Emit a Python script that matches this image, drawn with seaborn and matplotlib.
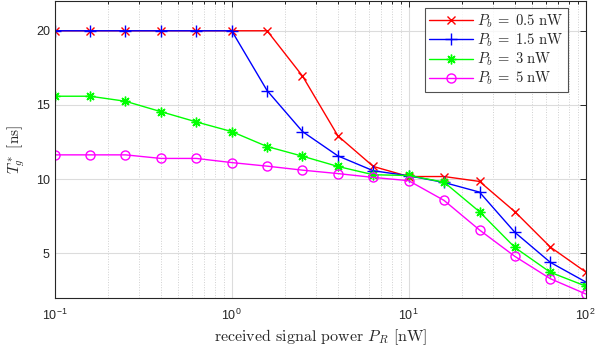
import numpy as np
import pandas as pd
import matplotlib
matplotlib.use("Agg")
import matplotlib.pyplot as plt
import seaborn as sns
from matplotlib.ticker import LogLocator, NullFormatter

# ---- data ----
P_R = [0.1, 0.1585, 0.2512, 0.3981, 0.631, 1.0, 1.585, 2.512, 3.981, 6.31,
       10.0, 15.85, 25.12, 39.81, 63.1, 100.0]
T_05 = [20, 20, 20, 20, 20, 20, 20, 16.95, 12.92, 10.86, 10.18, 10.18, 9.85, 7.81, 5.43, 3.75]
T_15 = [20, 20, 20, 20, 20, 20, 15.97, 13.21, 11.57, 10.57, 10.23, 9.78, 9.13, 6.42, 4.4, 3.08]
T_3 = [15.59, 15.59, 15.25, 14.55, 13.86, 13.21, 12.2, 11.55, 10.86, 10.3, 10.25, 9.8, 7.81, 5.4, 3.73, 2.8]
T_5 = [11.64, 11.64, 11.64, 11.4, 11.4, 11.12, 10.88, 10.61, 10.38, 10.12, 9.9, 8.57, 6.58, 4.8, 3.3, 2.27]
labels = [r"$P_b \;=\; 0.5\ \mathrm{nW}$", r"$P_b \;=\; 1.5\ \mathrm{nW}$",
          r"$P_b \;=\; 3\ \mathrm{nW}$", r"$P_b \;=\; 5\ \mathrm{nW}$"]
series = [T_05, T_15, T_3, T_5]
colors = ["#ff0000", "#0000ff", "#00ff00", "#ff00ff"]
markers = ["x", "+", (8, 2, 0), "o"]
msizes = [6, 8, 7, 6.5]

sns.set_style("white")
plt.rcParams["mathtext.fontset"] = "cm"
plt.rcParams["font.family"] = ["Liberation Sans", "DejaVu Sans"]

fig = plt.figure(figsize=(5.99, 3.56), dpi=100)
ax = fig.add_axes([0.0913, 0.163, 0.8865, 0.834])

for lab, vals, c, m, ms in zip(labels, series, colors, markers, msizes):
    df = pd.DataFrame({"P_R": P_R, "T": vals})
    sns.lineplot(data=df, x="P_R", y="T", ax=ax, color=c, marker=m,
                 markersize=ms, markerfacecolor="none", markeredgecolor=c,
                 markeredgewidth=1.0, linewidth=1.0, label=lab)

ax.set_xscale("log")
ax.set_xlim(0.1, 100)
ax.set_ylim(2, 22)
ax.set_yticks([5, 10, 15, 20])
ax.xaxis.set_minor_locator(LogLocator(base=10, subs=np.arange(2, 10), numticks=20))
ax.xaxis.set_minor_formatter(NullFormatter())

ax.grid(True, which="major", color="#dcdcdc", linewidth=0.8, linestyle="-")
ax.grid(True, which="minor", axis="x", color="#d0d0d0", linewidth=0.7, linestyle=":")
ax.set_axisbelow(True)

ax.tick_params(which="both", direction="in", top=True, right=True,
               labelsize=9, colors="#262626", width=0.7)
ax.tick_params(which="major", length=4)
ax.tick_params(which="minor", length=2)
ax.tick_params(axis="x", which="major", pad=7)
for s in ax.spines.values():
    s.set_color("#262626")
    s.set_linewidth(0.8)

ax.set_xlabel(r"received signal power $P_R$ [nW]", family="cmr10",
              fontsize=11.5, color="#262626", labelpad=3)
ax.set_ylabel(r"$T_g^*$ [ns]", family="cmr10", fontsize=11, color="#262626",
              labelpad=6)

leg = ax.legend(loc="upper right", bbox_to_anchor=(0.966, 0.977),
                frameon=True, fancybox=False, numpoints=1,
                prop={"family": "cmr10", "size": 10.5}, handlelength=3.0,
                borderpad=0.3, labelspacing=0.12, handletextpad=0.3,
                borderaxespad=0.0)
leg.get_frame().set_edgecolor("#262626")
leg.get_frame().set_linewidth(0.8)

fig.savefig("out.png", dpi=100)
